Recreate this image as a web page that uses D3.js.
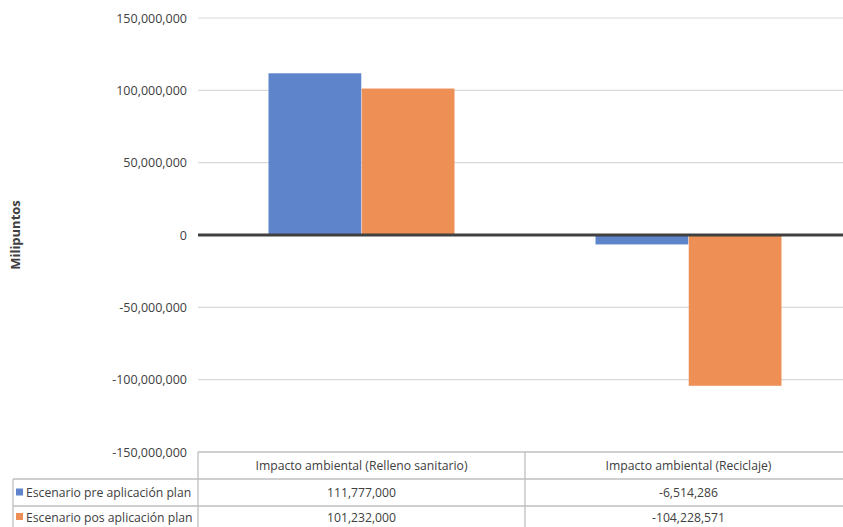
<!DOCTYPE html>
<html><head><meta charset="utf-8">
<script src="https://cdn.jsdelivr.net/npm/d3@7"></script>
<style>body{margin:0;background:#fff}svg{display:block}</style>
</head><body>
<svg id="c" width="843" height="527"></svg>
<script>
const categories = ["Impacto ambiental (Relleno sanitario)", "Impacto ambiental (Reciclaje)"];
const seriesNames = ["Escenario pre aplicación plan", "Escenario pos aplicación plan"];
const preValues = [111777000, -6514286];
const posValues = [101232000, -104228571];
const yTicks = [150000000, 100000000, 50000000, 0, -50000000, -100000000, -150000000];
const colors = ["#5E85CB", "#EE8F55"];
const yTitle = "Milipuntos";

const svg = d3.select("#c");
const L = 198, R = 843, RP = 852, T = 18, B = 452;
const y = d3.scaleLinear().domain([-150000000, 150000000]).range([B, T]);
const x0 = d3.scaleBand().domain(categories).range([L, RP]).paddingInner(0).paddingOuter(0);
const bw = x0.bandwidth();
const x1 = d3.scaleBand().domain(seriesNames).range([70.5, bw - 70.5]).paddingInner(0.005);
const fmt = v => d3.format(",")(v).replace("\u2212", "-");
const tickFont = "'Open Sans', sans-serif";

// grid
svg.append("g").selectAll("line").data(yTicks.filter(d => d !== 0 && d !== -150000000)).join("line")
  .attr("x1", L).attr("x2", R).attr("y1", d => y(d)).attr("y2", d => y(d))
  .attr("stroke", "#d9d9d9").attr("stroke-width", 1.2);

// y-axis labels
const yAxis = d3.axisLeft(y).tickValues(yTicks).tickFormat(fmt).tickSize(0).tickPadding(11);
const ga = svg.append("g").attr("transform", `translate(${L},0)`).call(yAxis);
ga.select(".domain").remove();
ga.selectAll("text").attr("font-family", tickFont).attr("font-size", 12.5).attr("fill", "#404040");

// bars
const series = [preValues, posValues];
series.forEach((vals, si) => {
  svg.append("g").selectAll("rect").data(categories).join("rect")
    .attr("x", (c) => x0(c) + x1(seriesNames[si]))
    .attr("width", x1.bandwidth())
    .attr("y", (c, i) => y(Math.max(0, vals[i])))
    .attr("height", (c, i) => Math.abs(y(vals[i]) - y(0)))
    .attr("fill", colors[si]);
});

// zero line
svg.append("line").attr("x1", L).attr("x2", R).attr("y1", y(0)).attr("y2", y(0))
  .attr("stroke", "#404040").attr("stroke-width", 3);

// y title
svg.append("text").attr("transform", `translate(20,${y(0)}) rotate(-90)`)
  .attr("text-anchor", "middle").attr("font-family", tickFont).attr("font-weight", "bold")
  .attr("font-size", 13).attr("fill", "#404040").text(yTitle);

// data table
const tblFont = "'Open Sans', sans-serif";
const tfs = 12.2;
const rowYs = [452, 479, 506, 533];
const gt = svg.append("g");
const lineC = "#bfbfbf";
gt.append("line").attr("x1", L).attr("x2", R).attr("y1", rowYs[0]).attr("y2", rowYs[0]).attr("stroke", lineC).attr("stroke-width", 1.3);
[1, 2].forEach(k => gt.append("line").attr("x1", 13).attr("x2", R).attr("y1", rowYs[k]).attr("y2", rowYs[k]).attr("stroke", lineC).attr("stroke-width", 1.3));
gt.append("line").attr("x1", L).attr("x2", L).attr("y1", rowYs[0]).attr("y2", 527).attr("stroke", lineC).attr("stroke-width", 1.3);
gt.append("line").attr("x1", 13).attr("x2", 13).attr("y1", rowYs[1]).attr("y2", 527).attr("stroke", lineC).attr("stroke-width", 1.3);
gt.append("line").attr("x1", x0(categories[1])).attr("x2", x0(categories[1])).attr("y1", rowYs[0]).attr("y2", 527).attr("stroke", lineC).attr("stroke-width", 1.3);

gt.selectAll("text.h").data(categories).join("text").attr("class", "h")
  .attr("x", c => x0(c) + bw / 2).attr("y", (rowYs[0] + rowYs[1]) / 2 + 4.5)
  .attr("text-anchor", "middle").attr("font-family", tblFont).attr("font-size", tfs).attr("fill", "#404040").text(c => c);
series.forEach((vals, si) => {
  const cy = (rowYs[si + 1] + rowYs[si + 2]) / 2;
  const ty = si === 1 ? 521.5 : cy + 4.5;
  gt.append("rect").attr("x", 16).attr("y", ty - 8.5).attr("width", 7).attr("height", 7).attr("fill", colors[si]);
  gt.append("text").attr("x", 26).attr("y", ty).attr("font-family", tblFont).attr("font-size", tfs)
    .attr("fill", "#404040").text(seriesNames[si]);
  gt.selectAll(null).data(categories).join("text")
    .attr("x", c => x0(c) + bw / 2).attr("y", ty)
    .attr("text-anchor", "middle").attr("font-family", tblFont).attr("font-size", tfs).attr("fill", "#404040")
    .text((c, i) => fmt(vals[i]));
});
</script>
</body></html>
